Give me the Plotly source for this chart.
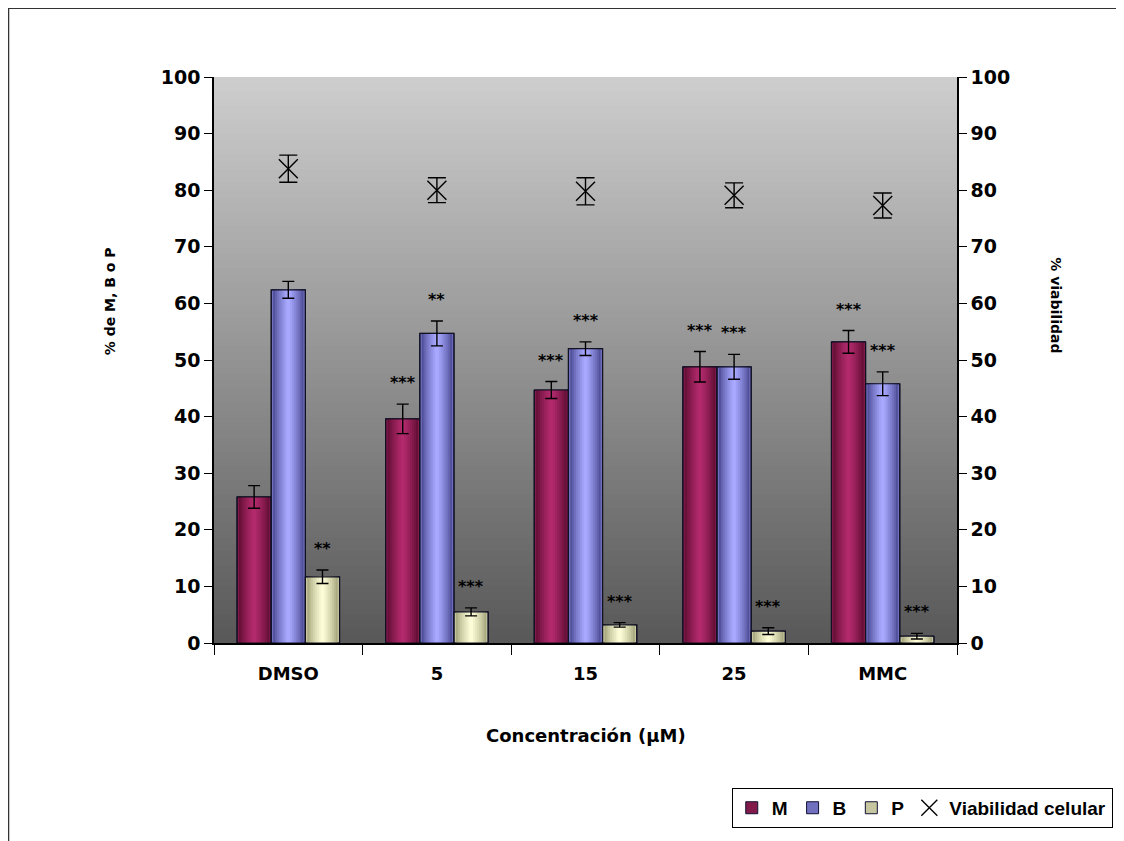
import plotly.graph_objects as go

# ---------------- data ----------------
categories = ["DMSO", "5", "15", "25", "MMC"]
series_names = ["M", "B", "P"]
m_values = [25.8, 39.6, 44.7, 48.8, 53.2]
m_errors = [2.0, 2.6, 1.5, 2.7, 2.0]
b_values = [62.4, 54.7, 52.0, 48.8, 45.8]
b_errors = [1.5, 2.2, 1.2, 2.2, 2.1]
p_values = [11.7, 5.5, 3.2, 2.1, 1.2]
p_errors = [1.2, 0.7, 0.4, 0.6, 0.5]
viab_values = [83.8, 80.0, 79.8, 79.1, 77.3]
viab_errors = [2.4, 2.2, 2.4, 2.2, 2.2]
m_stars = ["", "***", "***", "***", "***"]
b_stars = ["", "**", "***", "***", "***"]
p_stars = ["**", "***", "***", "***", "***"]
y_ticks = [0, 10, 20, 30, 40, 50, 60, 70, 80, 90, 100]

# ---------------- style ----------------
FONT = "DejaVu Sans"
BW = 0.23
centers = [-BW, 0.0, BW]
edge_cols = [(80, 8, 40), (55, 55, 125), (145, 145, 105)]
mid_cols = [(178, 42, 108), (168, 168, 255), (252, 252, 214)]
N_LAYERS = 9

def mix(c1, c2, t):
    return "rgb(%d,%d,%d)" % tuple(round(a + (b - a) * t) for a, b in zip(c1, c2))

fig = go.Figure()

values = [m_values, b_values, p_values]
errors = [m_errors, b_errors, p_errors]
stars = [m_stars, b_stars, p_stars]

for s in range(3):
    for k in range(N_LAYERS):
        w = BW * (1 - k / N_LAYERS)
        t = (k / (N_LAYERS - 1)) ** 0.7
        fig.add_trace(go.Bar(
            x=categories, y=values[s], name=series_names[s],
            width=w, offset=centers[s] - w / 2,
            marker=dict(color=mix(edge_cols[s], mid_cols[s], t) if k else mix(edge_cols[s], mid_cols[s], 0.5),
                        line=dict(width=1 if k == 0 else 0, color="#111133")),
            showlegend=(k == 0), legendgroup=series_names[s], hoverinfo="skip",
        ))
    # outline + error bars on top
    fig.add_trace(go.Bar(
        x=categories, y=values[s], name=series_names[s],
        width=BW, offset=centers[s] - BW / 2,
        marker=dict(color="rgba(0,0,0,0)", line=dict(width=1.2, color="#111122")),
        error_y=dict(type="data", array=errors[s], color="black", thickness=1.4, width=6),
        showlegend=False, legendgroup=series_names[s],
    ))

fig.add_trace(go.Scatter(
    x=categories, y=viab_values, name="Viabilidad celular", yaxis="y2",
    mode="markers",
    marker=dict(symbol="x-thin", size=19, color="black", line=dict(width=1.4, color="black")),
    error_y=dict(type="data", array=viab_errors, color="black", thickness=1.4, width=9),
))

# background gradient of the plot area (strips overlap to avoid seams)
N_STRIPS = 80
top_c, bot_c = (206, 206, 206), (88, 88, 88)
for i in range(N_STRIPS):
    fig.add_shape(type="rect", xref="x domain", yref="y domain",
                  x0=0, x1=1, y0=i / N_STRIPS, y1=min(1.0, (i + 1.6) / N_STRIPS),
                  fillcolor=mix(bot_c, top_c, (i + 0.5) / N_STRIPS),
                  line=dict(width=0), layer="below")

# outer frame
fig.add_shape(type="rect", xref="paper", yref="paper",
              x0=-0.2769, x1=1.2177, y0=-0.36, y1=1.1219,
              line=dict(color="#333333", width=2), fillcolor="rgba(0,0,0,0)")

# significance stars
for s in range(3):
    for i, lab in enumerate(stars[s]):
        if lab:
            fig.add_annotation(x=i + centers[s], y=values[s][i] + errors[s][i] + 3.8,
                               text=lab, showarrow=False, xref="x", yref="y",
                               font=dict(family=FONT, size=16, color="black", weight=700))

# axis titles
fig.add_annotation(text="Concentración (µM)", xref="paper", yref="paper",
                   x=0.5, y=-0.163, showarrow=False, yanchor="middle",
                   font=dict(family=FONT, size=18, color="black", weight=700))
fig.add_annotation(text="% de M, B o P", xref="paper", yref="paper",
                   x=-0.1398, y=0.604, showarrow=False, textangle=-90,
                   xanchor="center", yanchor="middle",
                   font=dict(family=FONT, size=14, color="black", weight=700))
fig.add_annotation(text="% viabilidad", xref="paper", yref="paper",
                   x=1.133, y=0.597, showarrow=False, textangle=90,
                   xanchor="center", yanchor="middle",
                   font=dict(family=FONT, size=14, color="black", weight=700))

tickfont = dict(family=FONT, size=19, color="black", weight=700)
fig.update_layout(
    width=1116, height=833,
    margin=dict(l=206, r=166, t=69, b=198),
    paper_bgcolor="white", plot_bgcolor="#999999",
    barmode="overlay",
    xaxis=dict(type="category", showline=True, linecolor="black", linewidth=1.5,
               ticks="outside", tickson="boundaries", ticklen=10, tickcolor="black",
               tickfont=dict(family=FONT, size=18, color="black", weight=700),
               ticklabelstandoff=14, showgrid=False, zeroline=False),
    yaxis=dict(range=[0, 100], tickvals=y_ticks, showline=True, linecolor="black",
               linewidth=1.5, ticks="outside", ticklen=8, tickcolor="black",
               tickfont=tickfont, showgrid=False, zeroline=False),
    yaxis2=dict(range=[0, 100], tickvals=y_ticks, overlaying="y", side="right",
                showline=True, linecolor="black", linewidth=1.5, ticks="outside",
                ticklen=8, tickcolor="black", tickfont=tickfont, showgrid=False,
                zeroline=False),
    legend=dict(orientation="h", x=1.208, xanchor="right", y=-0.256, yanchor="top",
                bordercolor="black", borderwidth=1, bgcolor="white",
                font=dict(family="Liberation Sans", size=19, color="black", weight=700),
                itemwidth=30, tracegroupgap=0),
    showlegend=True,
)

fig.write_html("out.html")
